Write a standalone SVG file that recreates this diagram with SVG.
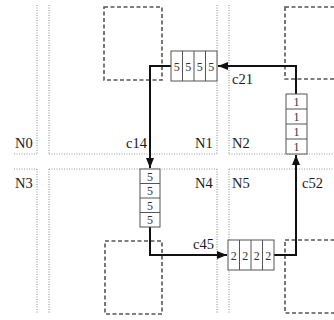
<svg xmlns="http://www.w3.org/2000/svg" width="334" height="320" viewBox="0 0 334 320">
<style>
.dot{stroke:#9a9a9a;stroke-width:1.2;stroke-dasharray:1 1.5;fill:none}
.dash{stroke:#555;stroke-width:1.6;stroke-dasharray:4 2.5;fill:none}
.buf{fill:#fff;stroke:#555;stroke-width:1}
.div{stroke:#555;stroke-width:1}
.lbl{font-family:"Liberation Serif",serif;font-size:14.5px;fill:#1a1a1a}
.num{font-family:"Liberation Serif",serif;font-size:12px;fill:#333;text-anchor:middle}
.conn{stroke:#111;stroke-width:2;fill:none}
</style>
<defs>
<marker id="arr" viewBox="0 0 10 8" refX="10" refY="4" markerWidth="10" markerHeight="8" markerUnits="userSpaceOnUse" orient="auto">
<path d="M0,0 L10,4 L0,8 z" fill="#111"/>
</marker>
</defs>
<rect width="334" height="320" fill="#fff"/>
<g id="grid">
<path class="dot" d="M37,5V154M49,5V154M217,5V154M229,5V154M37,169V314M49,169V314M217,169V314M229,169V314"/>
<path class="dot" d="M14,154H37M49,154H217M229,154H334M14,169H37M49,169H217M229,169H334"/>
</g>
<g id="cores">
<rect class="dash" x="104" y="7" width="58" height="73"/>
<rect class="dash" x="285" y="7" width="60" height="72"/>
<rect class="dash" x="105" y="241" width="57" height="73"/>
<rect class="dash" x="285" y="240" width="60" height="73"/>
</g>
<g id="connectors">
<path class="conn" d="M296,94V66H218" marker-end="url(#arr)"/>
<path class="conn" d="M171,66H150V168" marker-end="url(#arr)"/>
<path class="conn" d="M150,227V255H227" marker-end="url(#arr)"/>
<path class="conn" d="M274,255H296V155" marker-end="url(#arr)"/>
</g>
<g id="buf21">
<rect class="buf" x="171" y="51" width="46" height="30"/>
<path class="div" d="M182.5,51V81M194,51V81M205.5,51V81"/>
<text class="num" x="176.75" y="70.5">5</text><text class="num" x="188.25" y="70.5">5</text><text class="num" x="199.75" y="70.5">5</text><text class="num" x="211.25" y="70.5">5</text>
</g>
<g id="buf52">
<rect class="buf" x="286" y="94" width="21" height="60"/>
<path class="div" d="M286,109H307M286,124H307M286,139H307"/>
<text class="num" x="296.5" y="106">1</text><text class="num" x="296.5" y="121">1</text><text class="num" x="296.5" y="136">1</text><text class="num" x="296.5" y="151">1</text>
</g>
<g id="buf14">
<rect class="buf" x="140" y="169" width="20" height="58"/>
<path class="div" d="M140,183.5H160M140,198H160M140,212.5H160"/>
<text class="num" x="150" y="180.5">5</text><text class="num" x="150" y="195">5</text><text class="num" x="150" y="209.5">5</text><text class="num" x="150" y="224">5</text>
</g>
<g id="buf45">
<rect class="buf" x="228" y="240" width="46" height="30"/>
<path class="div" d="M239.5,240V270M251,240V270M262.5,240V270"/>
<text class="num" x="233.75" y="259.5">2</text><text class="num" x="245.25" y="259.5">2</text><text class="num" x="256.75" y="259.5">2</text><text class="num" x="268.25" y="259.5">2</text>
</g>
<g id="labels">
<text class="lbl" x="15" y="148">N0</text>
<text class="lbl" x="195" y="148">N1</text>
<text class="lbl" x="232" y="148">N2</text>
<text class="lbl" x="15" y="188">N3</text>
<text class="lbl" x="195" y="188">N4</text>
<text class="lbl" x="232" y="188">N5</text>
<text class="lbl" x="126" y="148">c14</text>
<text class="lbl" x="232" y="84">c21</text>
<text class="lbl" x="302" y="188">c52</text>
<text class="lbl" x="193" y="249">c45</text>
</g>
</svg>
